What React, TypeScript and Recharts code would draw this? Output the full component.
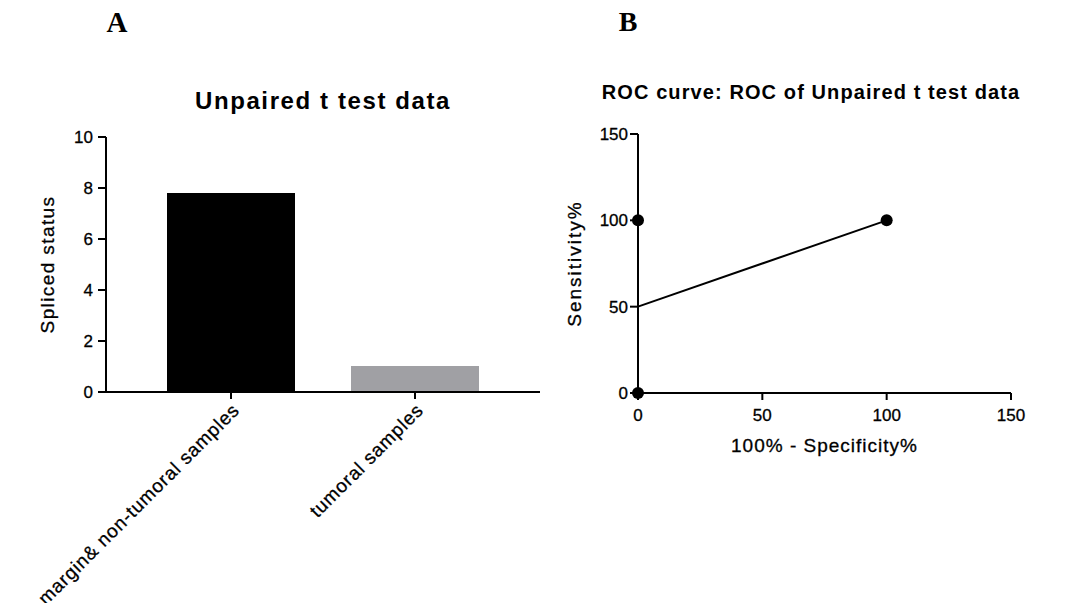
import React from 'react';
import { BarChart, Bar, Cell, XAxis, YAxis, Label, ScatterChart, Scatter } from 'recharts';

// panel A
const groups = ['margin& non-tumoral samples', 'tumoral samples'];
const splicedValues = [7.8, 1.02];
const barColors = ['#000000', '#a0a0a4'];
const barTicks = [0, 2, 4, 6, 8, 10];

// panel B
const rocX = [0, 0, 100];
const rocY = [0, 100, 100];
const lineX = [0, 100];
const lineY = [50, 100];
const rocTicks = [0, 50, 100, 150];

const SANS = '"Liberation Sans", Arial, sans-serif';
const SERIF = '"Liberation Serif", "Times New Roman", serif';

const barData = groups.map((g, i) => ({ group: g, value: splicedValues[i] }));
const rocPoints = rocX.map((x, i) => ({ x, y: rocY[i] }));
const linePoints = lineX.map((x, i) => ({ x, y: lineY[i] }));

const axisStroke = { stroke: '#000', strokeWidth: 2 };
const tickText = { fill: '#000', stroke: '#000', strokeWidth: 0.3, fontSize: 17, fontFamily: SANS };

function yTitle(text: string, x: number, spacing: number) {
  return (props: any) => {
    const vb = props.viewBox || {};
    const cy = vb.y + vb.height / 2;
    return (
      <text transform={`translate(${x},${cy}) rotate(-90)`} textAnchor="middle" fill="#000" stroke="#000" strokeWidth={0.3}
        style={{ fontFamily: SANS, fontSize: 19, letterSpacing: `${spacing}px` }}>
        {text}
      </text>
    );
  };
}

function xTitle(text: string, y: number, spacing: number) {
  return (props: any) => {
    const vb = props.viewBox || {};
    const cx = vb.x + vb.width / 2;
    return (
      <text x={cx} y={y} textAnchor="middle" fill="#000" stroke="#000" strokeWidth={0.3}
        style={{ fontFamily: SANS, fontSize: 19, letterSpacing: `${spacing}px` }}>
        {text}
      </text>
    );
  };
}

function SplicedBars() {
  return (
    <BarChart width={560} height={603} data={barData} margin={{ top: 137, right: 20, left: 46, bottom: 61 }}>
      <XAxis dataKey="group" height={150} padding={{ left: 33, right: 33 }} interval={0}
        axisLine={axisStroke} tickLine={axisStroke} tickSize={7} tickMargin={3}
        tick={{ ...tickText, fontSize: 19, angle: -45, textAnchor: 'end', style: { letterSpacing: '0.8px' } }} />
      <YAxis width={60} domain={[0, 10]} ticks={barTicks} interval={0}
        axisLine={axisStroke} tickLine={axisStroke} tickSize={8} tickMargin={5} tick={tickText}>
        <Label content={yTitle('Spliced status', 54, 1.4)} />
      </YAxis>
      <Bar dataKey="value" barSize={128} isAnimationActive={false}>
        {barData.map((d, i) => (<Cell key={d.group} fill={barColors[i]} />))}
      </Bar>
    </BarChart>
  );
}

function RocChart() {
  return (
    <ScatterChart width={508} height={603} margin={{ top: 134, right: 57, left: 18, bottom: 110 }}>
      <XAxis type="number" dataKey="x" domain={[0, 150]} ticks={rocTicks} interval={0} height={100}
        axisLine={axisStroke} tickLine={axisStroke} tickSize={7} tickMargin={9} tick={tickText}>
        <Label content={xTitle('100% - Specificity%', 452, 1)} />
      </XAxis>
      <YAxis type="number" dataKey="y" domain={[0, 150]} ticks={rocTicks} interval={0} width={60}
        axisLine={axisStroke} tickLine={axisStroke} tickSize={8} tickMargin={2} tick={tickText}>
        <Label content={yTitle('Sensitivity%', 21, 2)} />
      </YAxis>
      <Scatter data={linePoints} line={{ stroke: '#000', strokeWidth: 2 }} shape={() => <g />} isAnimationActive={false} />
      <Scatter data={rocPoints} fill="#000" isAnimationActive={false}
        shape={(p: any) => <circle cx={p.cx} cy={p.cy} r={6} fill="#000" />} />
    </ScatterChart>
  );
}

export default function App() {
  return (
    <div style={{ position: 'absolute', left: 0, top: 0, width: 1068, height: 603, background: '#fff', overflow: 'hidden' }}>
      <div style={{ position: 'absolute', left: 0, top: 0 }}><SplicedBars /></div>
      <div style={{ position: 'absolute', left: 560, top: 0 }}><RocChart /></div>
      <svg width={1068} height={603} style={{ position: 'absolute', left: 0, top: 0, pointerEvents: 'none' }}>
        <text x={117} y={32} textAnchor="middle" style={{ fontFamily: SERIF, fontWeight: 'bold', fontSize: 29 }}>A</text>
        <text x={628} y={31} textAnchor="middle" style={{ fontFamily: SERIF, fontWeight: 'bold', fontSize: 28 }}>B</text>
        <text x={323} y={109} textAnchor="middle" style={{ fontFamily: SANS, fontWeight: 'bold', fontSize: 24, letterSpacing: '1.6px' }}>
          Unpaired t test data
        </text>
        <text x={811} y={99} textAnchor="middle" style={{ fontFamily: SANS, fontWeight: 'bold', fontSize: 20, letterSpacing: '1.1px' }}>
          ROC curve: ROC of Unpaired t test data
        </text>
      </svg>
    </div>
  );
}
